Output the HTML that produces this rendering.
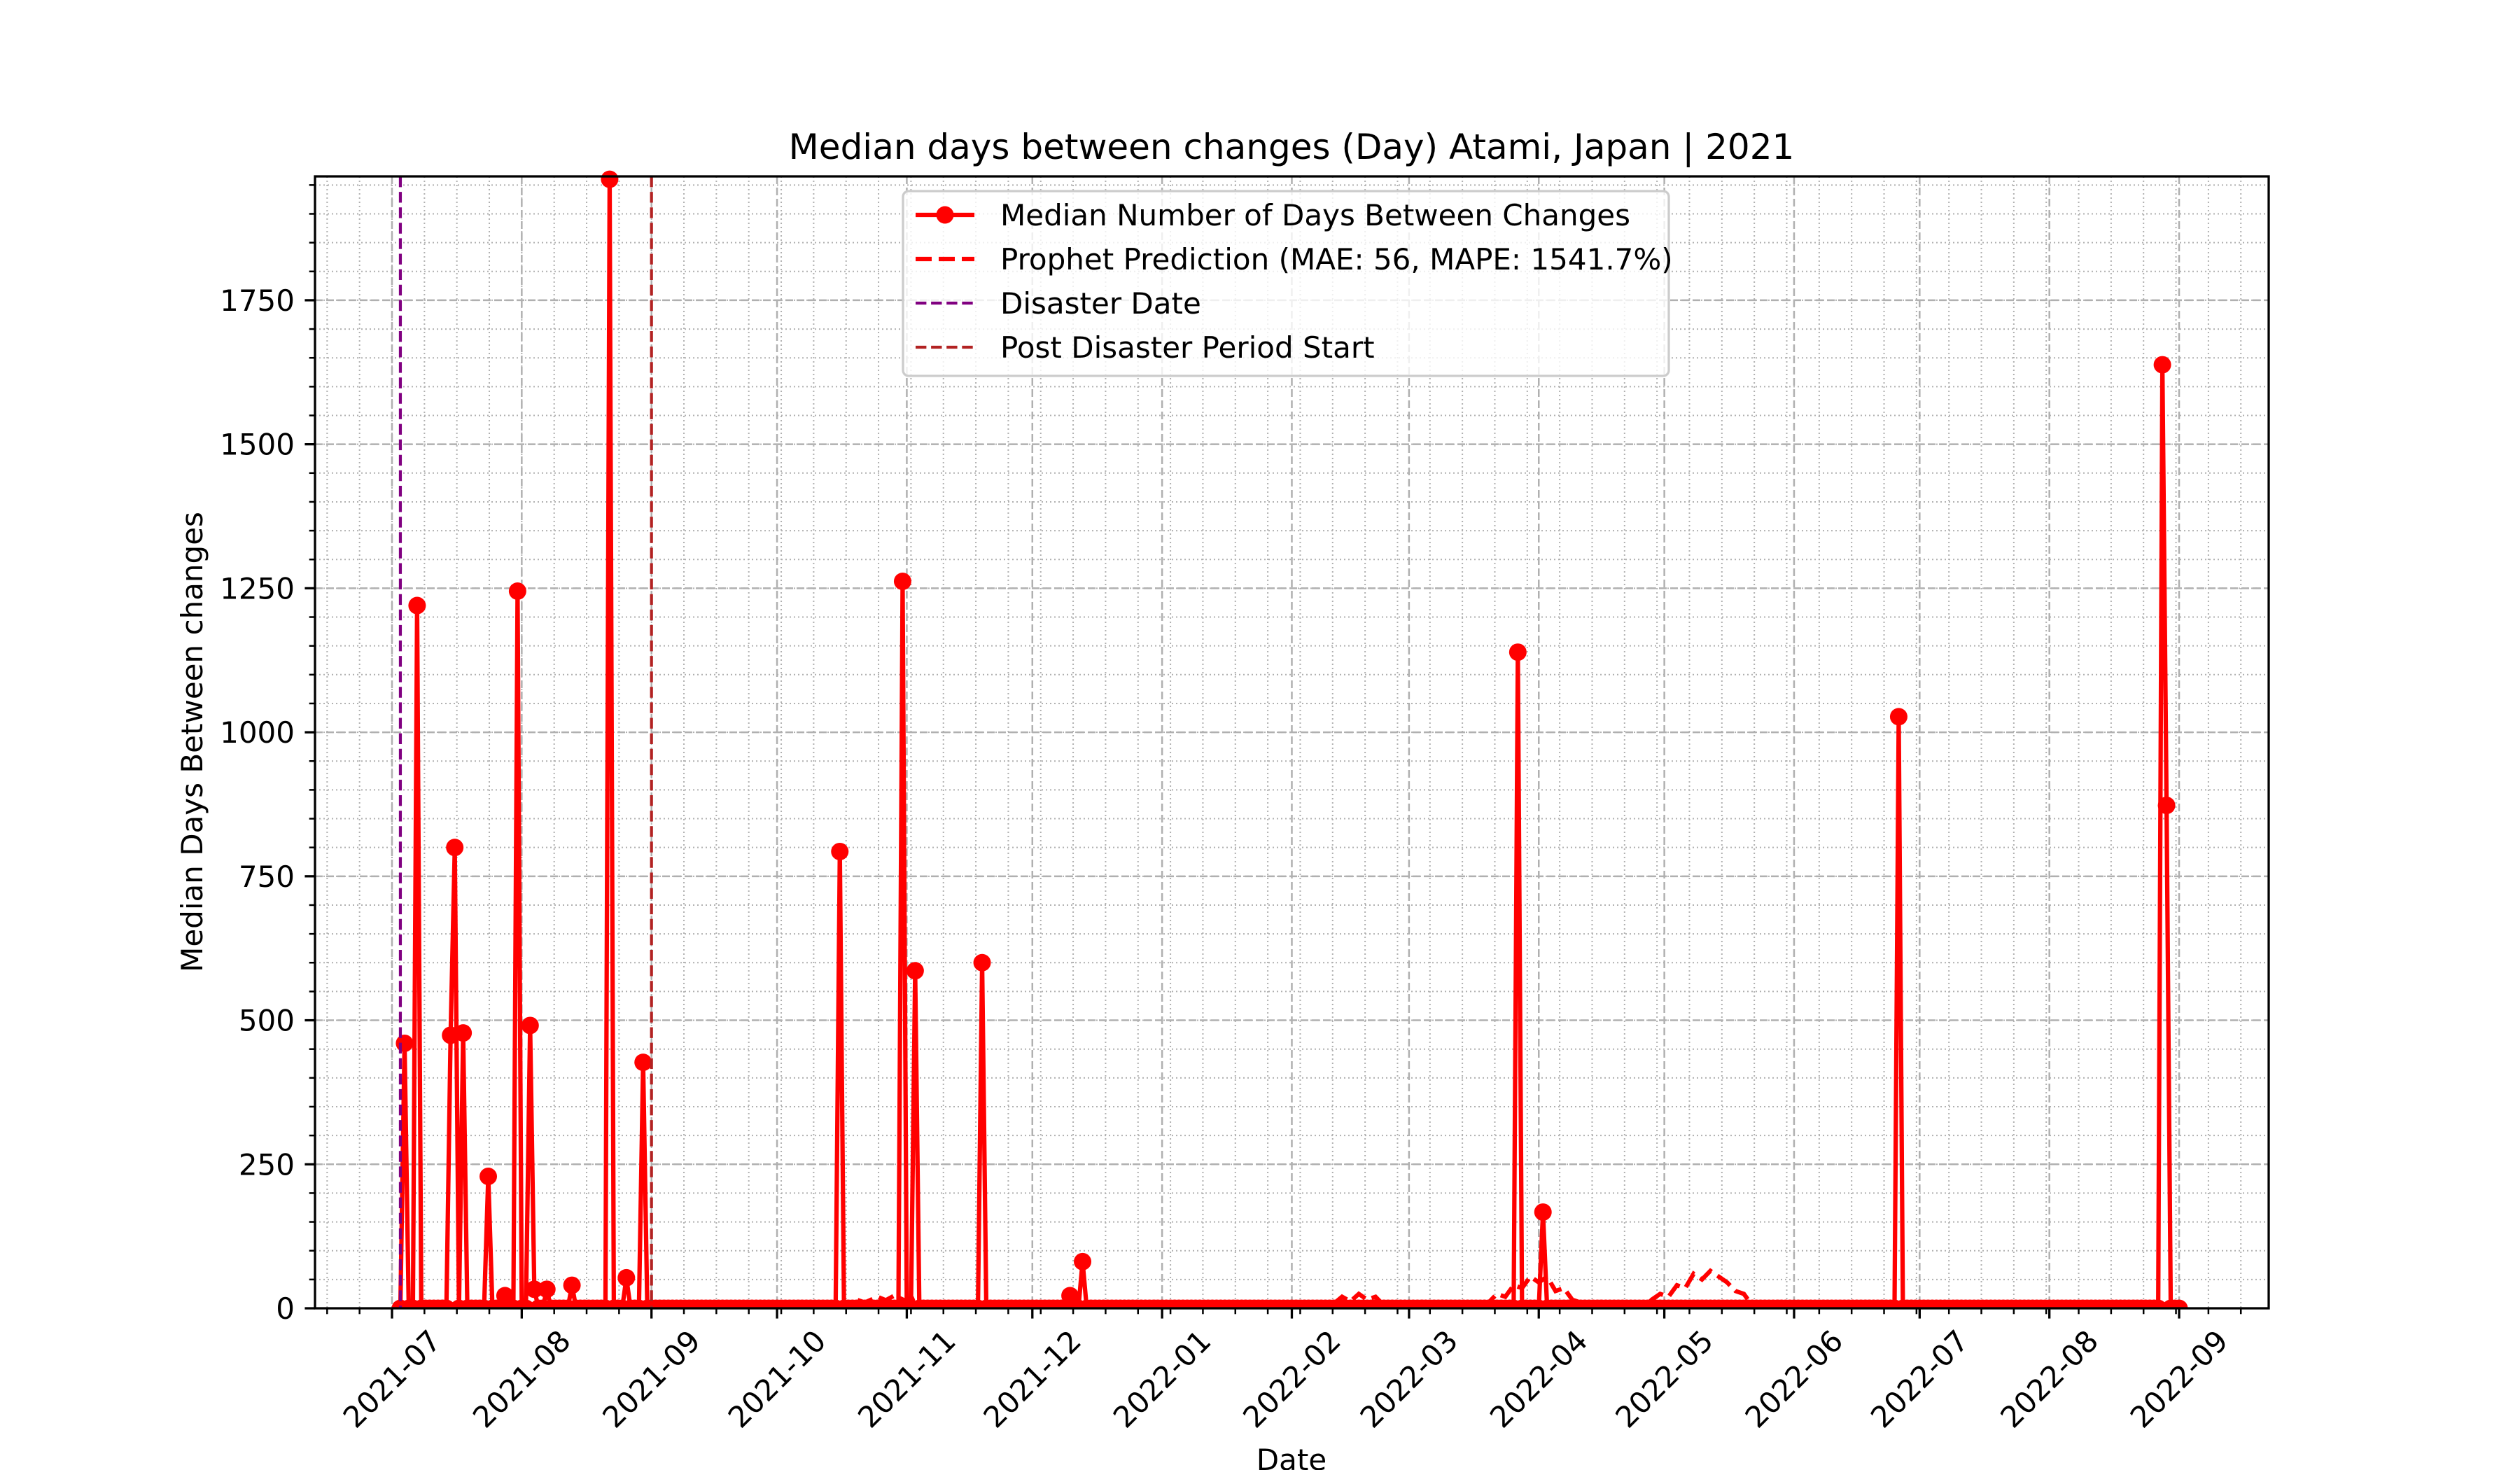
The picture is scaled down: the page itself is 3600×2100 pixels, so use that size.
<!DOCTYPE html>
<html><head><meta charset="utf-8"><style>
html,body{margin:0;padding:0;background:#fff}
svg{display:block;font-family:"DejaVu Sans","Liberation Sans",sans-serif}
</style></head><body>
<svg id="chart" width="3600" height="2100" viewBox="0 0 3600 2100" xmlns="http://www.w3.org/2000/svg">
<rect width="3600" height="2100" fill="#fff"/>
<g id="grid"></g>
<g id="series"></g>
<g id="axes"></g>
<text x="1845" y="227" font-size="50" text-anchor="middle">Median days between changes (Day) Atami, Japan | 2021</text>
<text x="1845" y="2100" font-size="42" text-anchor="middle">Date</text>
<text x="0" y="0" font-size="42" text-anchor="middle" transform="translate(289,1060) rotate(-90)">Median Days Between changes</text>
<g id="legend"></g>
</svg>
<script>
// ---- data ----
const spikeDates = ["2021-07-04","2021-07-07","2021-07-15","2021-07-16","2021-07-18","2021-07-24","2021-07-28","2021-07-31","2021-08-03","2021-08-04","2021-08-07","2021-08-13","2021-08-22","2021-08-26","2021-08-30","2021-10-16","2021-10-31","2021-11-03","2021-11-19","2021-12-10","2021-12-13","2022-03-27","2022-04-02","2022-06-26","2022-08-28","2022-08-29"];
const spikeValues = [460,1220,474,800,478,229,22,1245,491,33,33,40,1960,53,427,793,1262,586,600,22,81,1139,167,1027,1638,873];
const seriesStart = "2021-07-03";
const seriesEnd = "2022-09-01";
const baselineValue = 0;
const prophetDates = ["2021-09-01","2021-10-15","2021-10-18","2021-10-20","2021-10-22","2021-10-25","2021-10-27","2021-10-29","2021-11-01","2021-11-03","2021-11-05","2021-11-08","2021-11-10","2022-02-08","2022-02-11","2022-02-13","2022-02-15","2022-02-17","2022-02-19","2022-02-21","2022-02-23","2022-02-25","2022-03-17","2022-03-20","2022-03-22","2022-03-24","2022-03-26","2022-03-28","2022-03-30","2022-04-01","2022-04-03","2022-04-05","2022-04-07","2022-04-09","2022-04-11","2022-04-13","2022-04-26","2022-04-28","2022-04-30","2022-05-02","2022-05-04","2022-05-06","2022-05-08","2022-05-10","2022-05-12","2022-05-14","2022-05-16","2022-05-18","2022-05-20","2022-05-22","2022-05-24","2022-09-01"];
const prophetValues = [0,0,8,15,10,20,14,22,12,18,8,5,0,0,8,20,12,25,15,20,5,0,0,10,25,20,40,35,55,45,55,30,35,15,10,0,0,15,25,20,40,35,60,50,65,55,45,30,25,5,0,0];
const disasterDate = "2021-07-03";
const postDisasterDate = "2021-09-01";
const xTickLabels = ["2021-07","2021-08","2021-09","2021-10","2021-11","2021-12","2022-01","2022-02","2022-03","2022-04","2022-05","2022-06","2022-07","2022-08","2022-09"];
const yTickValues = [0,250,500,750,1000,1250,1500,1750];

// ---- layout ----
const L=450,R=3241,T=252,B=1869;
const DAY=86400000;
const d0=Date.UTC(2021,6,1);
const pxPerDay=5.979;
const xmin=(L-560)/pxPerDay, xmax=(R-560)/pxPerDay;
const ymax=(B-T)/0.8229;
function dnum(s){const p=s.split("-").map(Number);return (Date.UTC(p[0],p[1]-1,p[2]||1)-d0)/DAY;}
function X(d){return L+(d-xmin)/(xmax-xmin)*(R-L);}
function Y(v){return B-v/ymax*(B-T);}
const NS="http://www.w3.org/2000/svg";
function mk(tag,parent,attrs){const e=document.createElementNS(NS,tag);for(const k in attrs)e.setAttribute(k,attrs[k]);parent.appendChild(e);return e;}
const grid=document.getElementById('grid'),axes=document.getElementById('axes'),series=document.getElementById('series'),legend=document.getElementById('legend');

// minor x ticks (AutoMinorLocator, step = first major interval / 4)
const majorX=xTickLabels.map(dnum);
const minorStep=(majorX[1]-majorX[0])/4;
const minorX=[];
for(let t=Math.floor((xmin-majorX[0])/minorStep+1)*minorStep+majorX[0];t<=xmax;t+=minorStep)minorX.push(t);
minorX.forEach(t=>{
  const g=mk('line',grid,{x1:X(t),x2:X(t),y1:T,y2:B,stroke:'#b0b0b0','stroke-width':2,'stroke-dasharray':'2,4'});
  
  
  const k=mk('line',axes,{x1:X(t),x2:X(t),y1:B,y2:B+8.3,stroke:'#000','stroke-width':2.5});
  
  
});
const minorY=[];
for(let v=50;v<ymax;v+=50)minorY.push(v);
minorY.forEach(v=>{
  const g=mk('line',grid,{x1:L,x2:R,y1:Y(v),y2:Y(v),stroke:'#b0b0b0','stroke-width':2,'stroke-dasharray':'2,4'});
  
  
  const k=mk('line',axes,{x1:L-8.3,x2:L,y1:Y(v),y2:Y(v),stroke:'#000','stroke-width':2.5});
  
  
});
majorX.forEach((t,i)=>{
  const g=mk('line',grid,{x1:X(t),x2:X(t),y1:T,y2:B,stroke:'#b0b0b0','stroke-width':2.5,'stroke-dasharray':'11,5'});
  
  
  const k=mk('line',axes,{x1:X(t),x2:X(t),y1:B,y2:B+14.6,stroke:'#000','stroke-width':3.3});
  
  
  const tx=mk('text',axes,{x:0,y:0,'font-size':42,'text-anchor':'middle','dominant-baseline':'central',transform:`translate(${X(t)},1970) rotate(-45)`});
  tx.textContent=xTickLabels[i];
  
  
});
yTickValues.forEach(v=>{
  const g=mk('line',grid,{x1:L,x2:R,y1:Y(v),y2:Y(v),stroke:'#b0b0b0','stroke-width':2.5,'stroke-dasharray':'11,5'});
  
  
  const k=mk('line',axes,{x1:L-14.6,x2:L,y1:Y(v),y2:Y(v),stroke:'#000','stroke-width':3.3});
  
  
  const tx=mk('text',axes,{x:L-29,y:Y(v)+15,'font-size':42,'text-anchor':'end'});
  tx.textContent=String(v);
  
  
});

// main series
const spikeMap={};spikeDates.forEach((d,i)=>spikeMap[dnum(d)]=spikeValues[i]);
const pts=[];
for(let d=dnum(seriesStart);d<=dnum(seriesEnd);d++)pts.push([d,spikeMap[d]!==undefined?spikeMap[d]:baselineValue]);
const clipId='plotclip';
const defs=mk('defs',document.getElementById('chart'),{});
const cp=mk('clipPath',defs,{id:clipId});mk('rect',cp,{x:L,y:T-14,width:R-L,height:B-T+14});
series.setAttribute('clip-path','url(#plotclip)');
const line=mk('polyline',series,{points:pts.map(p=>X(p[0])+','+Y(p[1])).join(' '),fill:'none',stroke:'#ff0000','stroke-width':6.25,'stroke-linejoin':'round'});


pts.forEach(p=>{
  const c=mk('circle',series,{cx:X(p[0]),cy:Y(p[1]),r:12.5,fill:'#ff0000'});
  
  
});
// prophet
const pl=mk('polyline',series,{points:prophetDates.map((d,i)=>X(dnum(d))+','+Y(prophetValues[i])).join(' '),fill:'none',stroke:'#ff0000','stroke-width':6.25,'stroke-dasharray':'23,10'});


// vertical lines
const dl=mk('line',series,{x1:X(dnum(disasterDate)),x2:X(dnum(disasterDate)),y1:T,y2:B,stroke:'#800080','stroke-width':4.2,'stroke-dasharray':'15.4,6.7'});


const pd=mk('line',series,{x1:X(dnum(postDisasterDate)),x2:X(dnum(postDisasterDate)),y1:T,y2:B,stroke:'#b22222','stroke-width':4.2,'stroke-dasharray':'15.4,6.7'});



// frame
const fr=mk('rect',axes,{x:L,y:T,width:R-L,height:B-T,fill:'none',stroke:'#000','stroke-width':3.3});



// legend
const lb=mk('rect',legend,{x:1290,y:273,width:1094,height:264,rx:8,fill:'#fff','fill-opacity':0.8,stroke:'#cccccc','stroke-width':3.3});


const entries=[
 ["Median Number of Days Between Changes",'#ff0000',6.25,'none',true],
 ["Prophet Prediction (MAE: 56, MAPE: 1541.7%)",'#ff0000',6.25,'23,10',false],
 ["Disaster Date",'#800080',4.2,'15.4,6.7',false],
 ["Post Disaster Period Start",'#b22222',4.2,'15.4,6.7',false]];
entries.forEach((e,i)=>{
  const y=307+i*63;
  const ln=mk('line',legend,{x1:1308,x2:1392,y1:y,y2:y,stroke:e[1],'stroke-width':e[2],'stroke-dasharray':e[3]});
  
  
  if(e[4]){const c=mk('circle',legend,{cx:1350,cy:y,r:12.5,fill:'#ff0000'});
    
    }
  const t=mk('text',legend,{x:1429,y:y+15,'font-size':42});
  t.textContent=e[0];
  
  
});
</script>
</body></html>
